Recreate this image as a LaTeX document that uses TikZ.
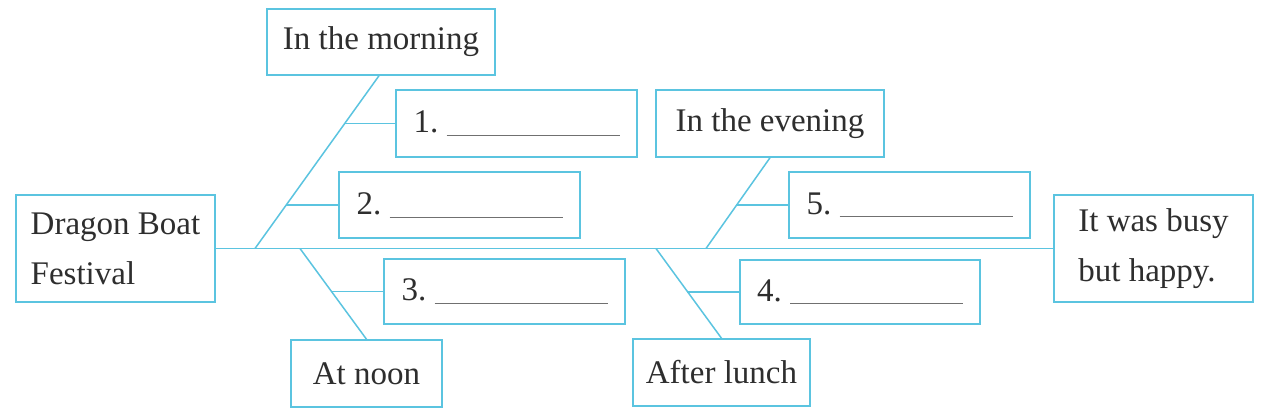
\documentclass[tikz,border=0pt]{standalone}
\usepackage{fontspec}
\setmainfont{Liberation Serif}
\usetikzlibrary{calc}
\definecolor{boxcyan}{HTML}{5BC4E0}
\definecolor{txt}{HTML}{2E2E2E}
\definecolor{blankgray}{HTML}{707070}
\newcommand{\blankline}{\textcolor{blankgray}{\rule[-3pt]{173pt}{0.9pt}}}
\tikzset{
  box/.style={draw=boxcyan, line width=1.5pt, rectangle, inner sep=0pt,
    text=txt, font=\fontsize{33}{50}\selectfont, align=center},
  link/.style={draw=boxcyan, line width=1.5pt}
}
\begin{document}
\begin{tikzpicture}[x=1pt,y=-1pt]
\useasboundingbox (0,0) rectangle (1278,410);
\fill[white] (0,0) rectangle (1278,410);

\node[box, minimum width=228pt, minimum height=66pt] (morning) at (381,42) {In the morning};
\node[box, minimum width=241pt, minimum height=67pt] (b1) at (516.5,123.5) {1.~\blankline};
\node[box, minimum width=241pt, minimum height=66pt] (b2) at (459.5,205) {2.~\blankline};
\node[box, minimum width=199pt, minimum height=107pt, align=left] (dragon) at (115.5,248.5) {Dragon Boat\\Festival};
\node[box, minimum width=241pt, minimum height=65pt] (b3) at (504.5,291.5) {3.~\blankline};
\node[box, minimum width=151pt, minimum height=67pt] (noon) at (366.5,373.5) {At noon};
\node[box, minimum width=228pt, minimum height=67pt] (evening) at (770,123.5) {In the evening};
\node[box, minimum width=241pt, minimum height=66pt] (b5) at (909.5,205) {5.~\blankline};
\node[box, minimum width=199pt, minimum height=107pt, align=left] (busy) at (1153.5,248.5) {It was busy\\but happy.};
\node[box, minimum width=240pt, minimum height=64pt] (b4) at (860,292) {4.~\blankline};
\node[box, minimum width=177pt, minimum height=67pt] (lunch) at (721.5,372.5) {After lunch};

% main spine
\draw[link] (dragon.east) -- (busy.west);

% junctions on the spine
\coordinate (j1) at (255,248.5);
\coordinate (j2) at (300,248.5);
\coordinate (j3) at (706,248.5);
\coordinate (j4) at (656,248.5);

% diagonals
\draw[link] (j1) -- ($(morning.south)+(-2,0)$) coordinate (m1);
\draw[link] (j2) -- (noon.north);
\draw[link] (j3) -- (evening.south);
\draw[link] (j4) -- (lunch.north);

% points on diagonals
\coordinate (p1) at ($(j1)!0.719!(m1)$);
\coordinate (p2) at ($(j1)!0.252!(m1)$);
\coordinate (p3) at ($(j2)!0.467!(noon.north)$);
\coordinate (p5) at ($(j3)!0.475!(evening.south)$);
\coordinate (p4) at ($(j4)!0.475!(lunch.north)$);

% stubs
\draw[link] (p1 |- b1.west) -- (b1.west);
\draw[link] (p2 |- b2.west) -- (b2.west);
\draw[link] (p3 |- b3.west) -- (b3.west);
\draw[link] (p5 |- b5.west) -- (b5.west);
\draw[link] (p4 |- b4.west) -- (b4.west);
\end{tikzpicture}
\end{document}
